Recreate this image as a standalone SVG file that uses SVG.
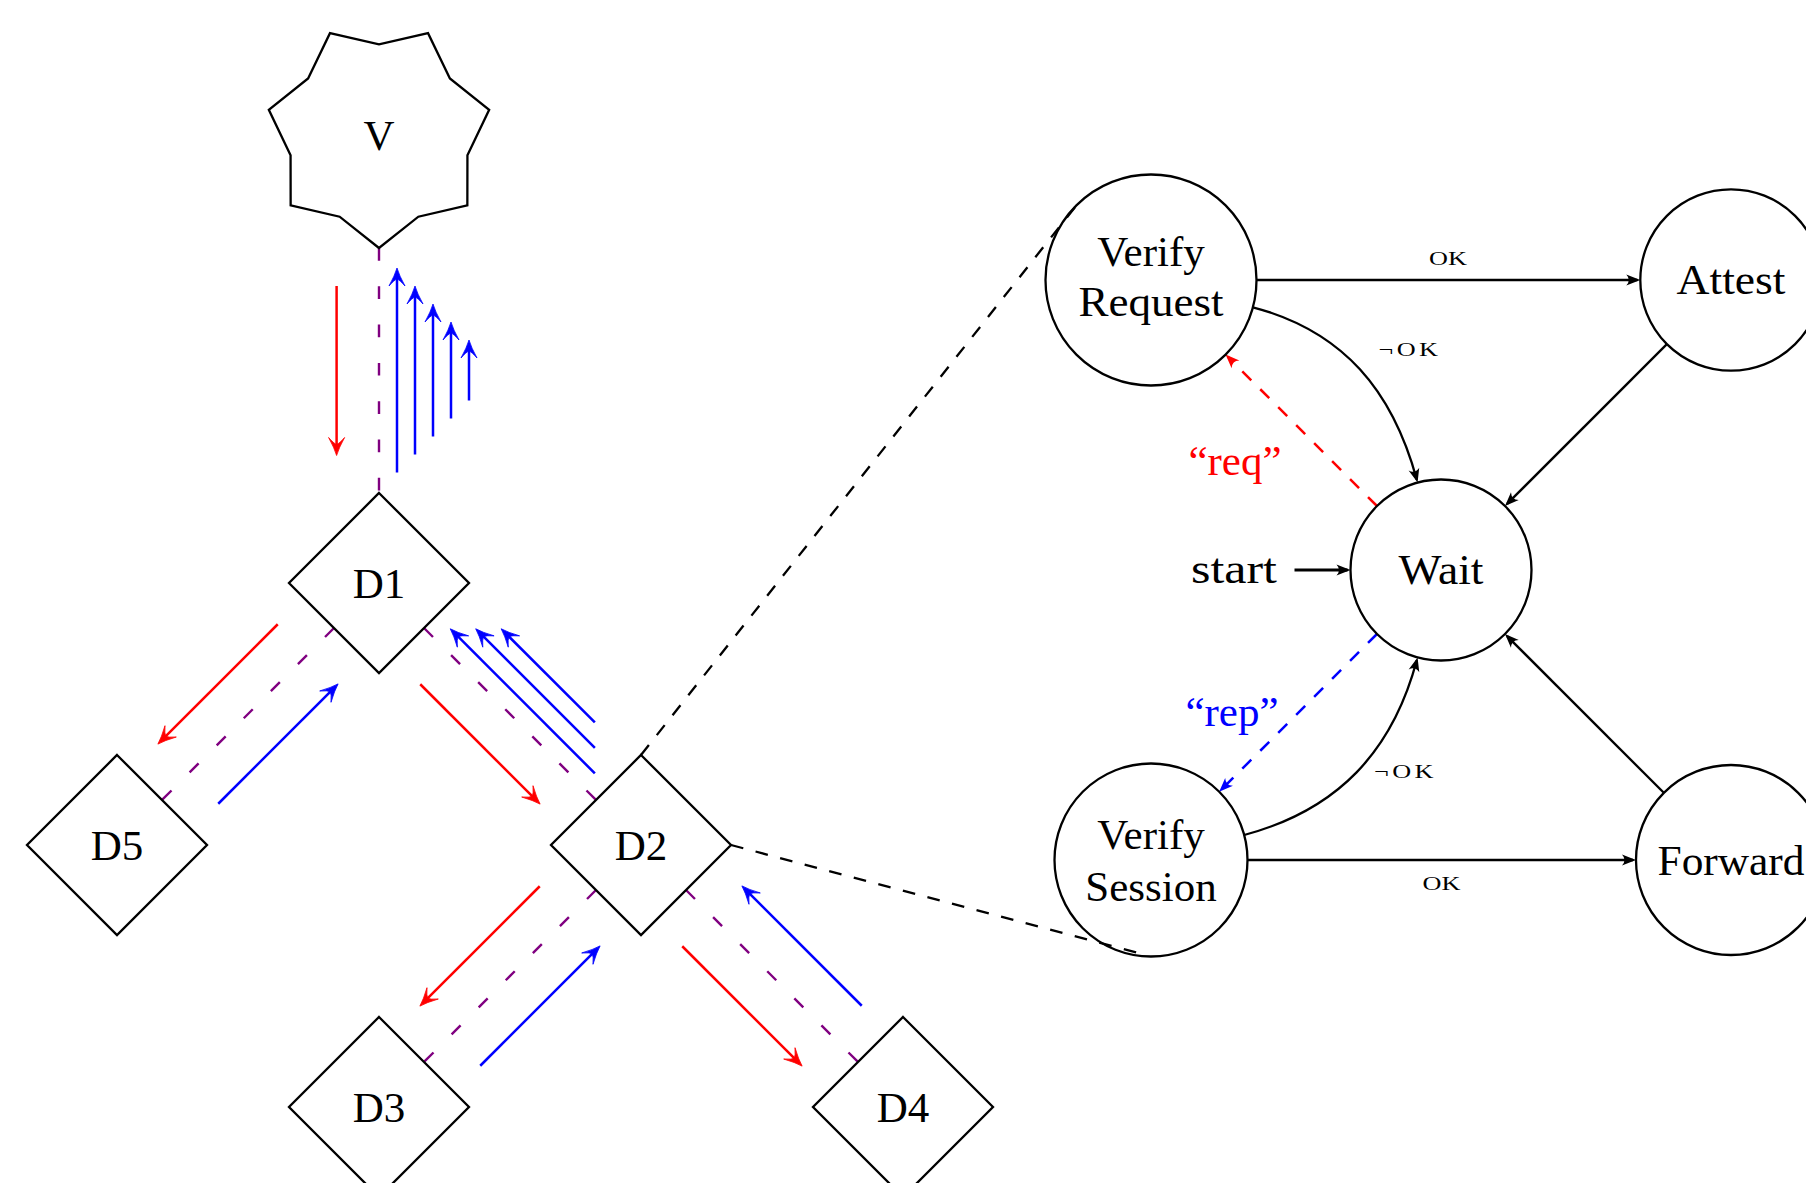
<svg xmlns="http://www.w3.org/2000/svg" width="1806" height="1183" viewBox="0 0 1806 1183">
<defs>
<style>
.nd{fill:none;stroke:#000;stroke-width:2.3;stroke-linejoin:miter}
.t{font-family:"Liberation Serif","Times New Roman",serif;font-size:43px;fill:#000;text-anchor:middle}
.sm{font-family:"Liberation Serif","Times New Roman",serif;font-size:19px;fill:#000}
.red{fill:none;stroke:#f00;stroke-width:2.5}
.blue{fill:none;stroke:#00f;stroke-width:2.5}
.pur{fill:none;stroke:#800080;stroke-width:2.4;stroke-dasharray:12.7 25.6}
.blk{fill:none;stroke:#000;stroke-width:2.3}
.dsh{stroke-dasharray:12.7 12.7}
</style>
<marker id="mr" markerUnits="userSpaceOnUse" markerWidth="30" markerHeight="30" refX="0" refY="0" viewBox="-15 -15 30 30" orient="auto" overflow="visible">
<path d="M4.5,0 Q-3,-2.2 -13.5,-8 Q-7.5,-2.8 -6.5,0 Q-7.5,2.8 -13.5,8 Q-3,2.2 4.5,0 Z" fill="#f00" stroke="#f00" stroke-width="0.8" stroke-linejoin="round"/>
</marker>
<marker id="mb" markerUnits="userSpaceOnUse" markerWidth="30" markerHeight="30" refX="0" refY="0" viewBox="-15 -15 30 30" orient="auto" overflow="visible">
<path d="M4.5,0 Q-3,-2.2 -13.5,-8 Q-7.5,-2.8 -6.5,0 Q-7.5,2.8 -13.5,8 Q-3,2.2 4.5,0 Z" fill="#00f" stroke="#00f" stroke-width="0.8" stroke-linejoin="round"/>
</marker>
<marker id="sk" markerUnits="userSpaceOnUse" markerWidth="30" markerHeight="30" refX="0" refY="0" viewBox="-15 -15 30 30" orient="auto" overflow="visible">
<path d="M3,0 L-11,-5.5 Q-6,0 -11,5.5 Z" fill="#000"/>
</marker>
<marker id="sr" markerUnits="userSpaceOnUse" markerWidth="30" markerHeight="30" refX="0" refY="0" viewBox="-15 -15 30 30" orient="auto" overflow="visible">
<path d="M3,0 L-11,-5.5 Q-6,0 -11,5.5 Z" fill="#f00"/>
</marker>
<marker id="sb" markerUnits="userSpaceOnUse" markerWidth="30" markerHeight="30" refX="0" refY="0" viewBox="-15 -15 30 30" orient="auto" overflow="visible">
<path d="M3,0 L-11,-5.5 Q-6,0 -11,5.5 Z" fill="#00f"/>
</marker>
</defs>
<rect width="1806" height="1183" fill="#fff"/>

<g id="connectors">
<path class="pur" d="M379,248 L379,493"/>
<path class="pur" d="M334,628 L162,800"/>
<path class="pur" d="M424,628 L596,800"/>
<path class="pur" d="M596,890 L424,1062"/>
<path class="pur" d="M686,890 L858,1062"/>
<path class="red" marker-end="url(#mr)" d="M336.6,286 L336.6,451"/>
<path class="blue" marker-end="url(#mb)" d="M397,472.5 L397,272.5"/>
<path class="blue" marker-end="url(#mb)" d="M415,454.5 L415,290.5"/>
<path class="blue" marker-end="url(#mb)" d="M433,436.5 L433,308.5"/>
<path class="blue" marker-end="url(#mb)" d="M451,418.5 L451,326.5"/>
<path class="blue" marker-end="url(#mb)" d="M469,400.5 L469,344.5"/>
<path class="red" marker-end="url(#mr)" d="M277.75,624.25 L161.08,740.92"/>
<path class="blue" marker-end="url(#mb)" d="M218.25,803.75 L334.92,687.08"/>
<path class="red" marker-end="url(#mr)" d="M420.25,684.25 L536.92,800.92"/>
<path class="blue" marker-end="url(#mb)" d="M594.85,773.39 L453.43,631.98"/>
<path class="blue" marker-end="url(#mb)" d="M594.86,747.94 L478.89,631.97"/>
<path class="blue" marker-end="url(#mb)" d="M594.86,722.48 L504.35,631.97"/>
<path class="red" marker-end="url(#mr)" d="M539.75,886.25 L423.08,1002.92"/>
<path class="blue" marker-end="url(#mb)" d="M480.25,1065.75 L596.92,949.08"/>
<path class="red" marker-end="url(#mr)" d="M682.25,946.25 L798.92,1062.92"/>
<path class="blue" marker-end="url(#mb)" d="M861.75,1005.75 L745.08,889.08"/>
<path class="blk dsh" d="M641,755 L1076.4,205.4"/>
<path class="blk dsh" d="M731,845 L1142,954"/>
<path class="blk" marker-end="url(#sk)" d="M1256.5,280 L1637.3,280"/>
<path class="blk" marker-end="url(#sk)" d="M1247.5,860 L1633,860"/>
<path class="blk" marker-end="url(#sk)" d="M1666.9,344.1 L1507.1,503.9"/>
<path class="blk" marker-end="url(#sk)" d="M1663.8,792.8 L1507.1,636.1"/>
<path class="blk" marker-end="url(#sk)" d="M1252.9,307.3 C1343.8,331.3 1392.7,391.2 1416.8,479.7"/>
<path class="blk" marker-end="url(#sk)" d="M1244.2,835 C1338.1,809.8 1392.4,751.3 1416.8,660.3"/>
<path class="red dsh" marker-end="url(#sr)" d="M1377,506 L1227.7,356.7"/>
<path class="blue dsh" marker-end="url(#sb)" d="M1377,634 L1221.3,789.7"/>
<path class="blk" style="stroke-width:3" marker-end="url(#sk)" d="M1294.5,570 L1347.5,570"/>
<text class="sm" transform="translate(1448,265) scale(1.38,1)" text-anchor="middle">OK</text>
<text class="sm" transform="translate(1378.5,356) scale(1.38,1)" textLength="43" lengthAdjust="spacing">¬OK</text>
<text class="sm" transform="translate(1374,778) scale(1.38,1)" textLength="43" lengthAdjust="spacing">¬OK</text>
<text class="sm" transform="translate(1441.5,890) scale(1.38,1)" text-anchor="middle">OK</text>
<text class="t" x="1235" y="475" style="fill:#f00">“req”</text>
<text class="t" x="1232" y="726" style="fill:#00f">“rep”</text>
<text class="t" x="1277" y="583" style="text-anchor:end" textLength="86" lengthAdjust="spacingAndGlyphs">start</text>
</g>

<g id="V">
<polygon class="nd" points="379,248 339.65,216.72 290.65,205.45 290.57,155.18 268.83,109.86 308.09,78.45 329.97,33.19 379,44.3 428.03,33.19 449.91,78.45 489.17,109.86 467.43,155.18 467.35,205.45 418.35,216.72"/>
<text class="t" x="379" y="149.5">V</text>
</g>
<g id="D1">
<polygon class="nd" points="379,493 469,583 379,673 289,583"/>
<text class="t" x="379" y="597.5">D1</text>
</g>
<g id="D5">
<polygon class="nd" points="117,755 207,845 117,935 27,845"/>
<text class="t" x="117" y="859.5">D5</text>
</g>
<g id="D2">
<polygon class="nd" points="641,755 731,845 641,935 551,845"/>
<text class="t" x="641" y="859.5">D2</text>
</g>
<g id="D3">
<polygon class="nd" points="379,1017 469,1107 379,1197 289,1107"/>
<text class="t" x="379" y="1121.5">D3</text>
</g>
<g id="D4">
<polygon class="nd" points="903,1017 993,1107 903,1197 813,1107"/>
<text class="t" x="903" y="1121.5">D4</text>
</g>
<g id="VerifyRequest">
<circle class="nd" cx="1151" cy="280" r="105.5"/>
<text class="t" x="1151" y="266">Verify</text>
<text class="t" x="1151" y="316" textLength="145" lengthAdjust="spacingAndGlyphs">Request</text>
</g>
<g id="Attest">
<circle class="nd" cx="1731" cy="280" r="90.7"/>
<text class="t" x="1731" y="294" textLength="109" lengthAdjust="spacingAndGlyphs">Attest</text>
</g>
<g id="Wait">
<circle class="nd" cx="1441" cy="570" r="90.5"/>
<text class="t" x="1441" y="584" textLength="85" lengthAdjust="spacingAndGlyphs">Wait</text>
</g>
<g id="VerifySession">
<circle class="nd" cx="1151" cy="860" r="96.5"/>
<text class="t" x="1151" y="849">Verify</text>
<text class="t" x="1151" y="901">Session</text>
</g>
<g id="Forward">
<circle class="nd" cx="1731" cy="860" r="95"/>
<text class="t" x="1731" y="874.5" textLength="147" lengthAdjust="spacingAndGlyphs">Forward</text>
</g>
</svg>
